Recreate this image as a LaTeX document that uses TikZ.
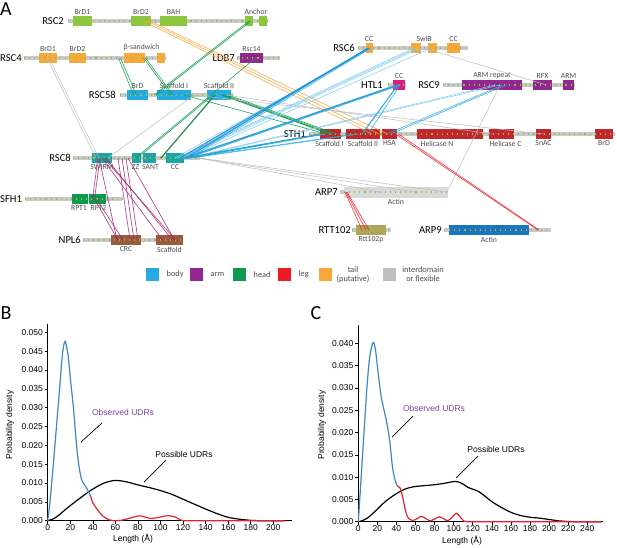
\documentclass[tikz,border=0pt]{standalone}
\usepackage{fontspec}
\setmainfont{Carlito}
\newfontfamily\plotfont{Liberation Sans}
\usetikzlibrary{positioning}

\definecolor{bbgrey}{HTML}{C9C9C9}
\definecolor{dotgreen}{HTML}{8CC63F}
\definecolor{limegreen}{HTML}{8CC63F}
\definecolor{tailorange}{HTML}{F8A73B}
\definecolor{armpurple}{HTML}{92278F}
\definecolor{bodyblue}{HTML}{27AAE1}
\definecolor{darkblue}{HTML}{1B92D4}
\definecolor{lightblue}{HTML}{80CCEE}
\definecolor{headgreen}{HTML}{0E9A4C}
\definecolor{legred}{HTML}{ED1C24}
\definecolor{flexgrey}{HTML}{BCBEC0}
\definecolor{sthred}{HTML}{C1272D}
\definecolor{rsceight}{HTML}{1DA4A6}
\definecolor{htlpink}{HTML}{E2197E}
\definecolor{nplbrown}{HTML}{9A5A3C}
\definecolor{rttolive}{HTML}{B0A35A}
\definecolor{arpblue}{HTML}{1C75BC}
\definecolor{arpgrey}{HTML}{D9D9D9}
\definecolor{xlpurple}{HTML}{A0226E}
\definecolor{obsblue}{HTML}{3A86C8}
\definecolor{obsred}{HTML}{E3232B}
\definecolor{udrpurple}{HTML}{7A3FA0}

\tikzset{
  backbone/.style={draw=bbgrey, line width=3.6pt},
  dots/.style={draw=dotgreen, line width=1.1pt, dash pattern=on 1.1pt off 4pt},
  dom/.style={inner sep=0pt, minimum height=10pt},
  pname/.style={anchor=east, inner sep=0pt, font=\fontsize{10.6}{12}\selectfont},
  dlab/.style={inner sep=0.3pt, font=\fontsize{7.7}{8.5}\selectfont, text=black!70},
  xl/.style={line width=0.65pt, opacity=0.85},
  xlb/.style={line width=1.2pt, opacity=0.9},
  lgbox/.style={minimum size=13pt, inner sep=0pt},
  lgtext/.style={font=\fontsize{8.3}{9}\selectfont, text=black!70, align=center},
  tick/.style={font=\plotfont\fontsize{8.5}{9.5}\selectfont, inner sep=1pt},
  curve/.style={line width=1.2pt},
  panel/.style={font=\fontsize{20}{22}\selectfont, inner sep=0pt}
}

\begin{document}
\begin{tikzpicture}[x=1pt,y=-1pt]
        \useasboundingbox (0,0) rectangle (617,547);

        \node[panel, anchor=west] (pa) at (0,9) {A};

        \draw[backbone] (68,21) -- (268,21);
        \node[pname] (rsc2) at (64,21) {RSC2};
        \node[dom, fill=limegreen, minimum width=19pt] (r2brd1) at (82.5,21) {};
        \node[dom, fill=limegreen, minimum width=20pt] (r2brd2) at (141,21) {};
        \node[dom, fill=limegreen, minimum width=27pt] (r2bah) at (173.5,21) {};
        \node[dom, fill=limegreen, minimum width=8pt] (r2anca) at (249,21) {};
        \node[dom, fill=limegreen, minimum width=8pt] (r2ancb) at (263,21) {};
        \draw[dots] (68,21) -- (268,21);
        \node[dlab, above=1pt of r2brd1] {BrD1};
        \node[dlab, above=1pt of r2brd2] {BrD2};
        \node[dlab, above=1pt of r2bah] {BAH};
        \node[dlab, anchor=south] at (256,15) {Anchor};

        \draw[backbone] (24,58) -- (166,58);
        \node[pname, anchor=west] (rsc4) at (0,58) {RSC4};
        \node[dom, fill=tailorange, minimum width=18pt] (r4brd1) at (48,58) {};
        \node[dom, fill=tailorange, minimum width=17pt] (r4brd2) at (77.5,58) {};
        \node[dom, fill=tailorange, minimum width=21pt] (r4bs) at (134.5,58) {};
        \node[dom, fill=tailorange, minimum width=8pt] (r4bsb) at (161,58) {};
        \draw[dots] (24,58) -- (166,58);
        \node[dlab, above=1pt of r4brd1] {BrD1};
        \node[dlab, above=1pt of r4brd2] {BrD2};
        \node[dlab, above=1pt of r4bs, xshift=7pt] {β-sandwich};

        \draw[backbone] (237,58) -- (280,58);
        \node[pname] (ldb7) at (235,58) {LDB7};
        \node[dom, fill=armpurple, minimum width=23pt] (l7rsc14) at (251.5,58) {};
        \draw[dots] (237,58) -- (280,58);
        \node[dlab, above=1pt of l7rsc14] {Rsc14};

        \draw[backbone] (120,95) -- (233,95);
        \node[pname] (rsc58) at (116,95) {RSC58};
        \node[dom, fill=bodyblue, minimum width=21pt] (r58brd) at (137.5,95) {};
        \node[dom, fill=bodyblue, minimum width=34pt] (r58sc1) at (174,95) {};
        \node[dom, fill=bodyblue, minimum width=24pt] (r58sc2) at (219,95) {};
        \draw[dots] (120,95) -- (233,95);
        \node[dlab, above=1pt of r58brd] {BrD};
        \node[dlab, above=1pt of r58sc1] {Scaffold I};
        \node[dlab, above=1pt of r58sc2] {Scaffold II};

        \draw[backbone] (358,48) -- (468,48);
        \node[pname] (rsc6) at (355,48) {RSC6};
        \node[dom, fill=tailorange, minimum width=7pt] (r6cc1) at (369,48) {};
        \node[dom, fill=tailorange, minimum width=10pt] (r6swib) at (416,48) {};
        \node[dom, fill=tailorange, minimum width=9pt] (r6swib2) at (432.5,48) {};
        \node[dom, fill=tailorange, minimum width=13pt] (r6cc2) at (453.5,48) {};
        \draw[dots] (358,48) -- (468,48);
        \node[dlab, above=1pt of r6cc1] {CC};
        \node[dlab, anchor=south] at (424,42) {SwiB};
        \node[dlab, above=1pt of r6cc2] {CC};

        \draw[backbone] (388,85) -- (406,85);
        \node[pname] (htl1) at (383,85) {HTL1};
        \node[dom, fill=htlpink, minimum width=12pt] (h1cc) at (399,85) {};
        \draw[dots] (388,85) -- (406,85);
        \node[dlab, above=1pt of h1cc] {CC};

        \draw[backbone] (443,85) -- (575,85);
        \node[pname] (rsc9) at (440,85) {RSC9};
        \node[dom, fill=armpurple, minimum width=60pt] (r9arm) at (492,85) {};
        \node[dom, fill=armpurple, minimum width=19pt] (r9rfx) at (542.5,85) {};
        \node[dom, fill=armpurple, minimum width=11pt] (r9armb) at (568.5,85) {};
        \draw[dots] (443,85) -- (575,85);
        \node[dlab, above=1pt of r9arm] {ARM repeat};
        \node[dlab, above=1pt of r9rfx] {RFX};
        \node[dlab, above=1pt of r9armb] {ARM};

        \draw[backbone] (309,134) -- (615,134);
        \node[pname] (sth1) at (306,134) {STH1};
        \node[dom, fill=sthred, minimum width=21pt] (s1sc1) at (330.5,134) {};
        \node[dom, fill=sthred, minimum width=34pt] (s1sc2) at (363,134) {};
        \node[dom, fill=sthred, minimum width=15pt] (s1hsa) at (389.5,134) {};
        \node[dom, fill=sthred, minimum width=66pt] (s1heln) at (450,134) {};
        \node[dom, fill=sthred, minimum width=25pt] (s1helc) at (501.5,134) {};
        \node[dom, fill=sthred, minimum width=15pt] (s1snac) at (543.5,134) {};
        \node[dom, fill=sthred, minimum width=18pt] (s1brd) at (604,134) {};
        \draw[dots] (309,134) -- (615,134);
        \node[dlab, below=1pt of s1sc1, xshift=-1pt] {Scaffold I};
        \node[dlab, below=1pt of s1sc2] {Scaffold II};
        \node[dlab, below=1pt of s1hsa] {HSA};
        \node[dlab, below=1pt of s1heln, xshift=-13pt] {Helicase N};
        \node[dlab, below=1pt of s1helc, xshift=4pt] {Helicase C};
        \node[dlab, below=1pt of s1snac] {SnAC};
        \node[dlab, below=1pt of s1brd] {BrD};

        \draw[backbone] (73,158) -- (200,158);
        \node[pname] (rsc8) at (71,158) {RSC8};
        \node[dom, fill=rsceight, minimum width=20pt] (r8swirm) at (102,158) {};
        \node[dom, fill=rsceight, minimum width=9pt] (r8zz) at (136.5,158) {};
        \node[dom, fill=rsceight, minimum width=13pt] (r8sant) at (149.5,158) {};
        \node[dom, fill=rsceight, minimum width=18pt] (r8cc) at (175,158) {};
        \draw[dots] (73,158) -- (200,158);
        \node[dlab, below=1pt of r8swirm] {SWIRM};
        \node[dlab, below=1pt of r8zz, xshift=-1pt] {ZZ};
        \node[dlab, below=1pt of r8sant, xshift=1pt] {SANT};
        \node[dlab, below=1pt of r8cc] {CC};

        \draw[backbone] (25,199) -- (122,199);
        \node[pname, anchor=west] (sfh1) at (0,199) {SFH1};
        \node[dom, fill=headgreen, minimum width=16pt] (f1rpt1) at (80,199) {};
        \node[dom, fill=headgreen, minimum width=17pt] (f1rpt2) at (97.5,199) {};
        \draw[dots] (25,199) -- (122,199);
        \node[dlab, below=1pt of f1rpt1, xshift=-1pt] {RPT1};
        \node[dlab, below=1pt of f1rpt2, xshift=1pt] {RPT2};

        \draw[backbone] (83,240) -- (183,240);
        \node[pname] (npl6) at (81,240) {NPL6};
        \node[dom, fill=nplbrown, minimum width=30pt] (n6crc) at (126,240) {};
        \node[dom, fill=nplbrown, minimum width=27pt] (n6scaf) at (169.5,240) {};
        \draw[dots] (83,240) -- (183,240);
        \node[dlab, below=1pt of n6crc] {CRC};
        \node[dlab, below=1pt of n6scaf] {Scaffold};

        \draw[backbone] (340,192) -- (448,192);
        \node[pname] (arp7) at (338,192) {ARP7};
        \node[dom, fill=arpgrey, minimum width=104pt, minimum height=11pt] (a7actin) at (396,192) {};
        \draw[dots] (344,192) -- (448,192);
        \node[dlab, below=1pt of a7actin] {Actin};

        \draw[backbone] (352,230) -- (391,230);
        \node[pname] (rtt102) at (351,230) {RTT102};
        \node[dom, fill=rttolive, minimum width=30pt] (t2rtt) at (371,230) {};
        \draw[dots] (352,230) -- (391,230);
        \node[dlab, below=1pt of t2rtt] {Rtt102p};

        \draw[backbone] (444,230) -- (551,230);
        \node[pname] (arp9) at (442,230) {ARP9};
        \node[dom, fill=arpblue, minimum width=80pt] (a9actin) at (489,230) {};
        \draw[dots] (444,230) -- (551,230);
        \node[dlab, below=1pt of a9actin] {Actin};

        \draw[xl, tailorange] ([xshift=2pt]r2brd2.center) -- ([xshift=9pt]s1sc2.center);
        \draw[xl, tailorange] ([xshift=6pt]r2brd2.center) -- ([xshift=16pt]s1sc2.center);
        \draw[xl, tailorange] ([xshift=9pt]r2brd2.center) -- ([xshift=-2pt]s1hsa.center);

        \draw[xl, headgreen] (r2anca.center) -- ([xshift=-20pt]r58sc1.center);
        \draw[xl, headgreen] ([xshift=2pt]r2anca.center) -- ([xshift=-18pt]r58sc1.center);
        \draw[xl, headgreen] ([xshift=4pt]l7rsc14.center) -- ([xshift=-1pt]r8zz.center);
        \draw[xl, headgreen] ([xshift=-6pt]r58sc2.center) -- ([xshift=1pt]r8zz.center);
        \draw[xlb, headgreen!80!black] ([xshift=-4pt]r58sc2.center) -- ([xshift=-14pt]r8cc.center);
        \draw[xl, headgreen] ([xshift=-16pt]r4bs.center) -- ([xshift=-4pt]r58brd.center);
        \draw[xl, headgreen] ([xshift=-14pt]r4bs.center) -- ([xshift=-1pt]r58brd.center);
        \draw[xl, headgreen] ([xshift=9pt]r4bs.center) -- ([xshift=-3pt]r58sc1.center);
        \draw[xl, headgreen] ([xshift=11pt]r4bs.center) -- ([xshift=-1pt]r58sc1.center);
        \draw[xl, headgreen] ([xshift=10pt]r58sc1.center) -- ([xshift=-4pt]s1sc1.center);
        \draw[xlb, headgreen] ([xshift=3pt]r58sc2.center) -- (s1sc1.center);
        \draw[xl, headgreen] ([xshift=6pt]r58sc2.center) -- ([xshift=3pt]s1sc1.center);
        \draw[xl, headgreen] ([xshift=9pt]r58sc2.center) -- ([xshift=6pt]s1sc1.center);

        \draw[xl, flexgrey] ([xshift=-1pt]r4brd1.center) -- ([xshift=-6pt]r8swirm.center);
        \draw[xl, flexgrey] ([xshift=1pt]r4brd1.center) -- ([xshift=-3pt]r8swirm.center);
        \draw[xl, flexgrey] ([xshift=20pt]r58sc1.center) -- ([xshift=6pt]r8swirm.center);
        \draw[xl, flexgrey] ([xshift=7pt]r58sc2.center) -- ([xshift=-10pt]s1helc.center);
        \draw[xl, flexgrey] ([xshift=18pt]r58sc1.center) -- (s1snac.center);
        \draw[xl, flexgrey] ([xshift=23pt]r8cc.center) -- ([xshift=-16pt]a7actin.center);
        \draw[xl, flexgrey] ([xshift=23pt]r8cc.center) -- ([xshift=19pt]a7actin.center);
        \draw[xl, flexgrey] ([xshift=24pt]r8cc.center) -- ([xshift=50pt]a7actin.center);
        \draw[xl, flexgrey] ([xshift=8pt]r9arm.center) -- ([xshift=51pt]a7actin.center);
        \draw[xl, flexgrey] ([xshift=8pt]r6swib.center) -- ([xshift=4pt]r9rfx.center);

        \draw[xl, lightblue] (r8cc.center) -- ([xshift=2pt]r6cc1.center);
        \draw[xl, lightblue] ([xshift=2pt]r8cc.center) -- ([xshift=-2pt]r6swib.center);
        \draw[xl, lightblue] ([xshift=4pt]r8cc.center) -- ([xshift=1pt]r6swib.center);
        \draw[xl, lightblue] ([xshift=7pt]r8cc.center) -- ([xshift=4pt]r6swib.center);
        \draw[xl, lightblue] ([xshift=10pt]r8cc.center) -- ([xshift=-1pt]r6swib2.center);
        \draw[xl, lightblue] ([xshift=13pt]r8cc.center) -- ([xshift=3pt]r9arm.center);
        \draw[xl, lightblue] ([xshift=15pt]r8cc.center) -- ([xshift=8pt]r9arm.center);
        \draw[xlb, darkblue] ([xshift=5pt]r8cc.center) -- (r6cc1.center);
        \draw[xl, bodyblue] ([xshift=8pt]r8cc.center) -- ([xshift=1pt]r6cc1.center);
        \draw[xlb, darkblue] ([xshift=11pt]r8cc.center) -- ([xshift=-1pt]r6cc1.center);
        \draw[xl, bodyblue] ([xshift=14pt]r8cc.center) -- ([xshift=2pt]r6cc1.center);
        \draw[xlb, darkblue] ([xshift=9pt]r8cc.center) -- ([xshift=-2pt]h1cc.center);
        \draw[xlb, bodyblue] ([xshift=12pt]r8cc.center) -- ([xshift=1pt]h1cc.center);
        \draw[xlb, darkblue] ([xshift=10pt]r8cc.center) -- ([xshift=-9pt]s1sc1.center);
        \draw[xlb, bodyblue] ([xshift=14pt]r8cc.center) -- ([xshift=-6pt]s1sc1.center);
        \draw[xl, bodyblue] ([xshift=12pt]r8cc.center) -- ([xshift=-8pt]s1sc2.center);
        \draw[xl, bodyblue] ([xshift=16pt]r8cc.center) -- ([xshift=-4pt]s1sc2.center);
        \draw[xlb, bodyblue] ([xshift=-1pt]h1cc.center) -- ([xshift=-1pt]s1sc2.center);
        \draw[xl, bodyblue] ([xshift=1pt]h1cc.center) -- ([xshift=5pt]s1sc2.center);
        \draw[xl, bodyblue] ([xshift=11pt]r9arm.center) -- ([xshift=-3pt]s1hsa.center);
        \draw[xl, bodyblue] ([xshift=14pt]r9arm.center) -- ([xshift=1pt]s1hsa.center);

        \draw[xl, legred] ([xshift=6pt]s1hsa.center) -- ([xshift=49pt]a9actin.center);
        \draw[xl, legred] ([xshift=9pt]s1hsa.center) -- ([xshift=50pt]a9actin.center);
        \draw[xl, legred] ([xshift=-51pt]a7actin.center) -- ([xshift=-9pt]t2rtt.center);
        \draw[xl, legred] ([xshift=-50pt]a7actin.center) -- ([xshift=-5pt]t2rtt.center);
        \draw[xl, legred] ([xshift=-49pt]a7actin.center) -- ([xshift=-2pt]t2rtt.center);

        \draw[xl, xlpurple] ([xshift=-4pt]r8swirm.center) -- ([xshift=-5pt]f1rpt2.center);
        \draw[xl, xlpurple] ([xshift=-2pt]r8swirm.center) -- ([xshift=-3pt]f1rpt2.center);
        \draw[xl, xlpurple] ([xshift=-3pt]f1rpt2.center) -- ([xshift=-8pt]n6crc.center);
        \draw[xl, xlpurple] ([xshift=-1pt]f1rpt2.center) -- ([xshift=-3pt]n6crc.center);
        \draw[xl, xlpurple] ([xshift=-3pt]r8swirm.center) -- ([xshift=-9pt]n6crc.center);
        \draw[xl, xlpurple] (r8swirm.center) -- ([xshift=-7pt]n6scaf.center);
        \draw[xl, xlpurple] ([xshift=2pt]r8swirm.center) -- ([xshift=6pt]n6scaf.center);
        \draw[xl, xlpurple] ([xshift=4pt]r8swirm.center) -- ([xshift=3pt]n6scaf.center);
        \draw[xl, xlpurple] ([xshift=16pt]r8swirm.center) -- ([xshift=4pt]n6crc.center);
        \draw[xl, xlpurple] ([xshift=20pt]r8swirm.center) -- ([xshift=8pt]n6crc.center);
        \draw[xl, xlpurple] ([xshift=24pt]r8swirm.center) -- ([xshift=12pt]n6crc.center);
        \draw[xl, xlpurple] ([xshift=26pt]r8swirm.center) -- ([xshift=5pt]n6scaf.center);

        \node[lgbox, fill=bodyblue] (lgbody) at (152.5,274.5) {};
        \node[lgtext, right=4pt of lgbody] {body};
        \node[lgbox, fill=armpurple] (lgarm) at (196.5,274.5) {};
        \node[lgtext, right=4pt of lgarm] {arm};
        \node[lgbox, fill=headgreen] (lghead) at (239.5,274.5) {};
        \node[lgtext, right=4pt of lghead] {head};
        \node[lgbox, fill=legred] (lgleg) at (284.5,274.5) {};
        \node[lgtext, right=4pt of lgleg] {leg};
        \node[lgbox, fill=tailorange] (lgtail) at (325.5,274.5) {};
        \node[lgtext] at (353,274.5) {tail\\(putative)};
        \node[lgbox, fill=flexgrey] (lgflex) at (389,274.5) {};
        \node[lgtext] at (423,274.5) {interdomain\\or flexible};

        \node[panel] (pb) at (6,313) {B};
        \draw[line width=0.8pt] (47.7,324) -- (47.7,520.7) -- (292,520.7);
        \foreach \t [count=\k from 0] in {0.000,0.005,0.010,0.015,0.020,0.025,0.030,0.035,0.040,0.045,0.050} {
          \draw[line width=0.6pt] (47.7,{520.7-18.84*\k}) -- ++(-3,0);
          \node[tick, anchor=east] at (44,{520.7-18.84*\k}) {\t};
        }
        \foreach \t [count=\k from 0] in {0,20,...,200} {
          \draw[line width=0.6pt] ({47.7+22.56*\k},520.7) -- ++(0,3);
          \node[tick, anchor=north] at ({47.7+22.56*\k},523.5) {\t};
        }
        \node[tick, anchor=north] at (133,533) {Length (Å)};
        \node[tick, rotate=90] at (10,425) {Probability density};
        \begin{scope}[shift={(47.7pt,-520.7pt)}, x=1.128pt, y=3.768pt]
          \draw[curve, black] plot[smooth] coordinates {(0,0) (5,0.5) (10,1.5) (15,2.8) (20,4) (30,6.3) (40,8.4) (50,10) (60,10.7) (70,10.3) (80,9.5) (90,8.8) (100,8) (110,7) (120,5.7) (130,4.4) (140,3.1) (150,1.9) (160,0.9) (170,0.4) (180,0.1) (190,0) (210,0)};
          \draw[curve, obsblue] plot[smooth] coordinates {(0,0) (2,5) (5,15) (10,33) (13,44) (15.4,47.6) (18,44) (20,38) (22.8,30) (25,22) (27,16) (30,11) (34.6,8.6) (38,6.5)};
          \draw[curve, obsred] plot[smooth] coordinates {(38,6.5) (40,4.8) (43.4,3.2) (49,1.2) (54,0.3) (58,0) (65,0.1) (72,0.6) (78,1.1) (82,1.3) (86,1.0) (91,0.6) (97,0.8) (103,1.2) (108,1.3) (113,1.0) (117,0.3) (120,0) (130,0) (210,0)};
        \end{scope}
        \draw[line width=0.7pt] (81,442) -- (102,423);
        \node[tick, text=udrpurple] (obsb) at (123,412) {Observed UDRs};
        \draw[line width=0.7pt] (144,482) -- (166,460);
        \node[tick] (posb) at (184,454) {Possible UDRs};

        \node[panel] (pc) at (316,313) {C};
        \draw[line width=0.8pt] (358.3,325) -- (358.3,521.7) -- (602.7,521.7);
        \foreach \t [count=\k from 0] in {0.000,0.005,0.010,0.015,0.020,0.025,0.030,0.035,0.040} {
          \draw[line width=0.6pt] (358.3,{521.7-22.3*\k}) -- ++(-3,0);
          \node[tick, anchor=east] at (354.6,{521.7-22.3*\k}) {\t};
        }
        \foreach \t [count=\k from 0] in {0,20,...,240} {
          \draw[line width=0.6pt] ({358.3+19.08*\k},521.7) -- ++(0,3);
          \node[tick, anchor=north] at ({358.3+19.08*\k},524.5) {\t};
        }
        \node[tick, anchor=north] at (462,535) {Length (Å)};
        \node[tick, rotate=90] at (322,425) {Probability density};
        \begin{scope}[shift={(358.3pt,-521.7pt)}, x=0.954pt, y=4.46pt]
          \draw[curve, black] plot[smooth] coordinates {(0,0) (5,0.3) (10,0.9) (15,1.8) (20,2.8) (25,3.9) (30,4.8) (35,5.6) (40,6.3) (45,6.9) (50,7.4) (55,7.7) (60,7.9) (70,8.1) (80,8.3) (90,8.6) (100,9) (105,8.9) (110,8.4) (115,7.7) (120,7.3) (125,6.9) (130,6.2) (140,4.5) (150,3.2) (160,2.1) (170,1.4) (180,1.0) (190,0.8) (200,0.5) (210,0.2) (220,0.05) (230,0) (255,0)};
          \draw[curve, obsblue] plot[smooth] coordinates {(0,0) (3,10) (6,20) (9,30) (12,37) (15.5,40.2) (18,38.5) (21,33) (24,28) (27,25) (30,22) (33,18) (36,12) (39,9) (41,8)};
          \draw[curve, obsred] plot[smooth] coordinates {(41,8) (44,7.5) (47,5) (50,2) (53,0.7) (57,0.3) (61,0.6) (66,1.2) (71,0.7) (75,0.2) (80,0.6) (85,1.1) (90,0.6) (94,0.2) (99,1.2) (103,1.9) (107,1.0) (111,0.1) (115,0) (130,0) (255,0)};
        \end{scope}
        \draw[line width=0.7pt] (392,437) -- (413,416);
        \node[tick, text=udrpurple] (obsc) at (434,408) {Observed UDRs};
        \draw[line width=0.7pt] (456,478) -- (478,456);
        \node[tick] (posc) at (496,449) {Possible UDRs};
\end{tikzpicture}
\end{document}
